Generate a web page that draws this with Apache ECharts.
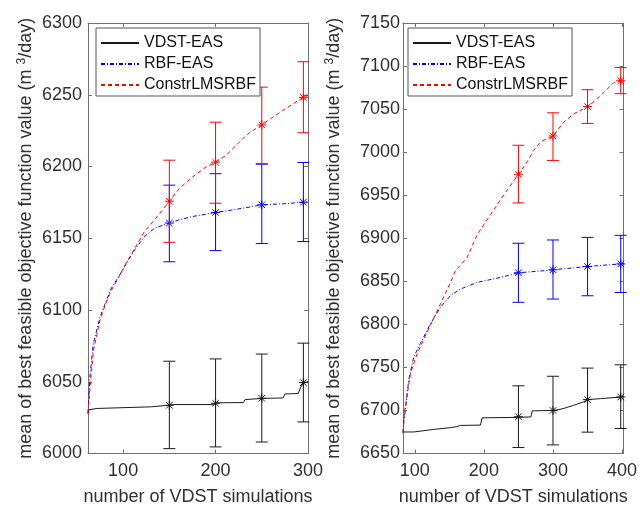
<!DOCTYPE html>
<html>
<head>
<meta charset="utf-8">
<script src="https://cdn.jsdelivr.net/npm/echarts@6/dist/echarts.min.js"></script>
<style>html,body{margin:0;padding:0;background:#fff;}#c{width:643px;height:511px;}</style>
</head>
<body>
<div id="c"></div>
<script>
// ---------- data ----------
const seriesNames = ['VDST-EAS', 'RBF-EAS', 'ConstrLMSRBF'];
const xTicksL = [100, 200, 300];
const xTicksR = [100, 200, 300, 400];

// Left panel mean curves
const blackLX = [62, 63, 64.6, 72, 72.5, 129.3, 131, 149, 154.5, 197.6, 201, 230, 232, 251.6, 273, 275, 289.4, 292, 295, 300];
const blackLY = [6028, 6030.5, 6031.4, 6031.4, 6032.5, 6032.5, 6033.4, 6033.6, 6034.1, 6034.1, 6035.3, 6035.5, 6037.6, 6038.4, 6038.7, 6041.5, 6041.8, 6046, 6049.4, 6050];
const blueLX = [62, 64, 67.6, 75, 80.3, 87.5, 94.6, 101.8, 112.6, 123.4, 134.2, 150, 161, 175.5, 190, 200, 219, 240, 250, 272.6, 295, 300];
const blueLY = [6028, 6053, 6076, 6095, 6104, 6115.6, 6122.6, 6130.6, 6142, 6151.4, 6157.1, 6160.6, 6162.9, 6165.2, 6166.8, 6168, 6169.8, 6172.1, 6173.3, 6174, 6175.1, 6175.3];
const redLX = [62, 64.5, 68, 75, 80.3, 87.5, 94.6, 101.8, 112.6, 123.4, 134.2, 150, 161, 175.5, 190, 200, 211.5, 222.3, 233.1, 240.3, 250, 261.8, 272.6, 283.4, 295, 300];
const redLY = [6028, 6048, 6072, 6093, 6103, 6114, 6122, 6131, 6143, 6155, 6163, 6175.8, 6184.8, 6192.9, 6199.8, 6203, 6207.8, 6214.7, 6221.7, 6225.1, 6229, 6234.3, 6239, 6243.5, 6248.2, 6249.5];

// Right panel mean curves
const blackRX = [83, 98.6, 100, 127.5, 151.7, 160, 166, 195, 197.4, 250, 268, 270, 300, 305, 315.6, 330, 344.5, 350, 368.6, 397.7, 402];
const blackRY = [6675, 6675, 6676, 6678, 6680, 6681, 6682.6, 6683, 6691.4, 6692, 6692.5, 6699.5, 6700, 6700.5, 6702.3, 6706, 6710, 6712.6, 6713.7, 6715.6, 6716];
const blueRX = [83, 84.5, 86.5, 91.3, 98.6, 108.2, 122.7, 137.2, 151.7, 166.1, 190.3, 224, 250, 296.4, 300, 350, 398, 402];
const blueRY = [6674, 6690, 6701, 6735.6, 6762.4, 6777.7, 6800.7, 6819.9, 6833.4, 6841, 6848.7, 6854.5, 6859.9, 6862.9, 6863.4, 6867.2, 6870.2, 6870.5];
const redRX = [83, 85, 93.8, 103.4, 122.7, 137.2, 151.7, 158.9, 175.8, 190.3, 209.6, 228.8, 250, 262.7, 272.3, 281.9, 300, 315.6, 330, 350, 364, 378.4, 388, 398, 402];
const redRY = [6674, 6697, 6743, 6766, 6799, 6823.8, 6848.8, 6862.2, 6877.5, 6904.4, 6927.4, 6950.4, 6974.3, 6989, 7002, 7012, 7018.8, 7034.9, 7044.4, 7052.9, 7061.7, 7073.2, 7080.9, 7082.9, 7084];

// Error bars: positions, mean, lower, upper
const ebLX = [150, 200, 250, 295];
const blackLMean = [6033.6, 6035, 6038.5, 6049.4];
const blackLLo = [6003.4, 6004.6, 6008, 6022];
const blackLHi = [6064.3, 6065.9, 6069.3, 6076.9];
const blueLMean = [6160.6, 6168, 6173.3, 6175.1];
const blueLLo = [6133.6, 6141.4, 6146.3, 6147.7];
const blueLHi = [6187, 6195, 6201.6, 6202.8];
const redLMean = [6175.8, 6203, 6229, 6248.2];
const redLLo = [6147.2, 6174.4, 6202, 6223.5];
const redLHi = [6204.4, 6230.9, 6255.3, 6273];

const ebRX = [250, 300, 350, 398];
const blackRMean = [6692.7, 6700, 6712.6, 6715.6];
const blackRLo = [6656.9, 6660, 6674.8, 6679];
const blackRHi = [6728.6, 6739.7, 6749.2, 6753];
const blueRMean = [6859.9, 6863.4, 6867.2, 6870.2];
const blueRLo = [6825.6, 6829.4, 6833.2, 6837];
const blueRHi = [6894.2, 6898, 6901, 6903.4];
const redRMean = [6974.3, 7018.8, 7052.9, 7082.9];
const redRLo = [6941, 6990.4, 7033.4, 7067.9];
const redRHi = [7008, 7045.7, 7072.5, 7098.2];

// ---------- helpers ----------
const zip = (xs, ys) => xs.map((x, i) => [x, ys[i]]);
const ebRows = (xs, lo, hi, m) => xs.map((x, i) => [x, lo[i], hi[i], m[i]]);

const COLORS = { black: '#1a1a1a', blue: '#0000ff', red: '#ff0000' };
const AXIS_COLOR = '#707070';
const TEXT_COLOR = '#303030';
const FONT = 'Liberation Sans, Arial, Helvetica, sans-serif';

function curve(name, xs, ys, color, type, gi) {
  return {
    type: 'line', name: name, xAxisIndex: gi * 2, yAxisIndex: gi * 2,
    data: zip(xs, ys), symbol: 'none', showSymbol: false, silent: true,
    lineStyle: { color: color, width: 1, type: type }, itemStyle: { color: color },
    z: 2, animation: false
  };
}

function errorBars(rows, color, gi) {
  return {
    type: 'custom', xAxisIndex: gi * 2, yAxisIndex: gi * 2,
    data: rows, encode: { x: 0, y: [1, 2, 3] }, clip: false, silent: true, z: 3,
    renderItem: function (params, api) {
      const x = api.value(0);
      const pLo = api.coord([x, api.value(1)]);
      const pHi = api.coord([x, api.value(2)]);
      const pM = api.coord([x, api.value(3)]);
      const w = 6, r = 4.5, d = r * 0.72;
      const st = { stroke: color, lineWidth: 1, fill: null };
      const L = (x1, y1, x2, y2) => ({ type: 'line', shape: { x1, y1, x2, y2 }, style: st });
      return {
        type: 'group', children: [
          L(pLo[0], pLo[1], pHi[0], pHi[1]),
          L(pLo[0] - w, pLo[1], pLo[0] + w, pLo[1]),
          L(pHi[0] - w, pHi[1], pHi[0] + w, pHi[1]),
          L(pM[0] - r, pM[1], pM[0] + r, pM[1]),
          L(pM[0], pM[1] - r, pM[0], pM[1] + r),
          L(pM[0] - d, pM[1] - d, pM[0] + d, pM[1] + d),
          L(pM[0] - d, pM[1] + d, pM[0] + d, pM[1] - d)
        ]
      };
    }
  };
}

function xAxes(gi, min, max, ticks) {
  const base = {
    type: 'value', gridIndex: gi, min: min, max: max, splitLine: { show: false },
    axisLine: { show: true, onZero: false, lineStyle: { color: AXIS_COLOR, width: 1 } },
    axisTick: { show: true, inside: true, length: 4, customValues: ticks, lineStyle: { color: AXIS_COLOR } }
  };
  return [
    Object.assign({}, base, {
      position: 'bottom',
      axisLabel: { show: true, customValues: ticks, margin: 9, fontSize: 18, color: TEXT_COLOR, fontFamily: FONT },
      name: 'number of VDST simulations', nameLocation: 'middle', nameGap: 34.5,
      nameTextStyle: { fontSize: 18, color: TEXT_COLOR, fontFamily: FONT }
    }),
    Object.assign({}, base, { position: 'top', axisLabel: { show: false } })
  ];
}

function yAxes(gi, min, max, margin, nameGap) {
  const base = {
    type: 'value', gridIndex: gi, min: min, max: max, interval: 50, splitLine: { show: false },
    axisLine: { show: true, onZero: false, lineStyle: { color: AXIS_COLOR, width: 1 } },
    axisTick: { show: true, inside: true, length: 4, lineStyle: { color: AXIS_COLOR } }
  };
  return [
    Object.assign({}, base, {
      position: 'left',
      axisLabel: { show: true, margin: margin, fontSize: 18, color: TEXT_COLOR, fontFamily: FONT,
        formatter: v => String(v) },
      name: 'mean of best feasible objective function value (m {sup|3}/day)',
      nameLocation: 'middle', nameGap: nameGap,
      nameTextStyle: {
        fontSize: 18, color: TEXT_COLOR, fontFamily: FONT,
        rich: { sup: { fontSize: 12, color: TEXT_COLOR, fontFamily: FONT, padding: [0, 0, 8, 0] } }
      }
    }),
    Object.assign({}, base, { position: 'right', axisLabel: { show: false } })
  ];
}

function legend(left) {
  return {
    orient: 'vertical', left: left, top: 28, data: seriesNames,
    itemWidth: 38, itemHeight: 12, itemGap: 5, padding: [7, 4, 3, 4],
    borderColor: '#555', borderWidth: 1, backgroundColor: '#ffffff', selectedMode: false,
    itemStyle: { opacity: 0, borderWidth: 0 },
    textStyle: { fontSize: 16, color: '#111', fontFamily: FONT }
  };
}

const chart = echarts.init(document.getElementById('c'), null, { renderer: 'canvas' });
chart.setOption({
  animation: false,
  backgroundColor: '#ffffff',
  grid: [
    { left: 88, top: 23, width: 220, height: 435 },
    { left: 403, top: 23, width: 220.5, height: 435.5 }
  ],
  xAxis: xAxes(0, 62, 300, xTicksL).concat(xAxes(1, 83, 402, xTicksR)),
  yAxis: yAxes(0, 6000, 6300, 6, 52).concat(yAxes(1, 6650, 7150, 3, 59)),
  legend: [legend(96), legend(408)],
  series: [
    curve(seriesNames[0], blackLX, blackLY, COLORS.black, 'solid', 0),
    curve(seriesNames[1], blueLX, blueLY, COLORS.blue, [4, 2, 1, 2], 0),
    curve(seriesNames[2], redLX, redLY, COLORS.red, [4, 3], 0),
    errorBars(ebRows(ebLX, blackLLo, blackLHi, blackLMean), COLORS.black, 0),
    errorBars(ebRows(ebLX, blueLLo, blueLHi, blueLMean), COLORS.blue, 0),
    errorBars(ebRows(ebLX, redLLo, redLHi, redLMean), COLORS.red, 0),
    curve(seriesNames[0], blackRX, blackRY, COLORS.black, 'solid', 1),
    curve(seriesNames[1], blueRX, blueRY, COLORS.blue, [4, 2, 1, 2], 1),
    curve(seriesNames[2], redRX, redRY, COLORS.red, [4, 3], 1),
    errorBars(ebRows(ebRX, blackRLo, blackRHi, blackRMean), COLORS.black, 1),
    errorBars(ebRows(ebRX, blueRLo, blueRHi, blueRMean), COLORS.blue, 1),
    errorBars(ebRows(ebRX, redRLo, redRHi, redRMean), COLORS.red, 1)
  ]
});
</script>
</body>
</html>
